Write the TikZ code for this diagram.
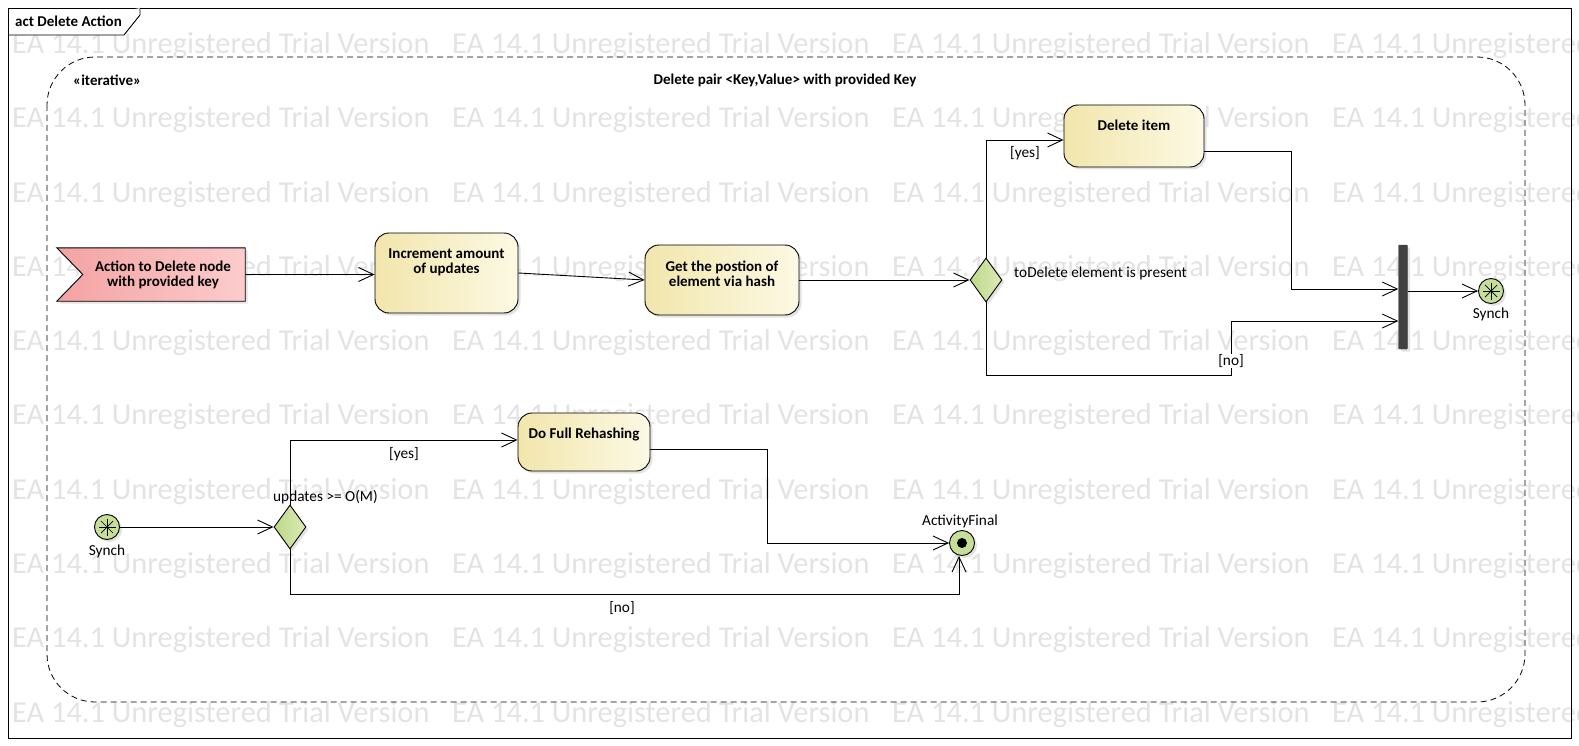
\documentclass[tikz,border=0pt]{standalone}
\usepackage{fontspec}
\setmainfont{Carlito}
\usetikzlibrary{arrows.meta,positioning,shapes.geometric,shadows}

\definecolor{actL}{HTML}{F2E6AC}
\definecolor{actR}{HTML}{FCF9E4}
\definecolor{sigL}{HTML}{F4A2A2}
\definecolor{sigR}{HTML}{FCCCCC}
\definecolor{decL}{HTML}{BFD88A}
\definecolor{decR}{HTML}{DCEAB6}
\definecolor{ctlfill}{HTML}{C6DE98}
\definecolor{barfill}{HTML}{404040}
\definecolor{wmark}{HTML}{E3E3E3}

\begin{document}
\begin{tikzpicture}[
    x=1pt, y=-1pt,
    every node/.style={font=\fontsize{15}{17}\selectfont},
    flow/.style={draw, line width=0.9pt, -{Straight Barb[length=15pt,width=14pt,line width=0.9pt]}},
    shade/.style={drop shadow={shadow xshift=2.5pt, shadow yshift=-2.5pt, fill=black!22}},
    action/.style={draw, line width=0.9pt, rounded corners=14pt, left color=actL, right color=actR, shade, inner sep=0},
    acttext/.style={anchor=north, align=center, font=\fontsize{15}{15}\selectfont\bfseries, inner sep=0},
    decision/.style={diamond, draw, line width=0.9pt, left color=decL, right color=decR, shade, minimum width=32pt, minimum height=44pt, inner sep=0},
    ctl/.style={circle, draw, line width=0.9pt, fill=ctlfill, shade, minimum size=25pt, inner sep=0},
    guard/.style={inner sep=1pt, font=\fontsize{15.3}{17}\selectfont},
    wm/.style={anchor=west, text=wmark, inner sep=0, font=\fontsize{30.4}{34}\selectfont}
]
\useasboundingbox (0,0) rectangle (1579,746);

% watermark
\begin{scope}
\clip (0,0) rectangle (1579,746);
\foreach \r in {0,...,9}
  \foreach \c in {0,...,3}
    \node[wm] (wm-\c-\r) at (12+440*\c, 45.5+74.3*\r) {EA 14.1 Unregistered Trial Version};
\end{scope}

% frame
\draw[line width=0.9pt] (8,8) rectangle (1571,738);
\draw[line width=0.9pt, fill=white] (8,35) -- (124,35) -- (140,15) -- (140,8);
\node[anchor=west, inner sep=0, font=\fontsize{15}{17}\selectfont\bfseries] (frametitle) at (15,21.5) {act Delete Action};

% iterative region
\draw[line width=0.8pt, dash pattern=on 6pt off 4pt, rounded corners=48pt] (47,57) rectangle (1525,702);
\node[anchor=west, inner sep=0, font=\fontsize{15}{17}\selectfont\bfseries] (stereo) at (73,80) {«iterative»};
\node[inner sep=0, font=\fontsize{15}{17}\selectfont\bfseries] (regtitle) at (785,80) {Delete pair <Key,Value> with provided Key};

% upper row
\node[minimum width=188pt, minimum height=53pt, inner sep=0] (sig) at (151,274.5) {};
\path[draw, line width=0.9pt, left color=sigL, right color=sigR, shade]
    (sig.north west) -- (sig.north east) -- (sig.south east) -- (sig.south west)
    -- ([xshift=26pt]sig.west) -- cycle;
\node[align=center, inner sep=0, font=\fontsize{15}{15}\selectfont\bfseries] (sigtxt) at (163,275) {Action to Delete node\\with provided key};

\node[action, minimum width=143pt, minimum height=80pt] (incr) at (446.5,273) {};
\node[acttext] (incrtxt) at ([yshift=-16pt]incr.north) {Increment amount\\of updates};

\node[action, minimum width=154pt, minimum height=70pt] (getpos) at (722,280) {};
\node[acttext] (getpostxt) at ([yshift=-16pt]getpos.north) {Get the postion of\\element via hash};

\node[decision] (dec1) at (986,280) {};
\node[anchor=west, guard] (dec1txt) at (1013,273) {toDelete element is present};

\node[action, minimum width=140pt, minimum height=62pt] (delitem) at (1134,136) {};
\node[acttext] (delitemtxt) at ([yshift=-15pt]delitem.north) {Delete item};

\node[draw=barfill, fill=barfill, rounded corners=1pt, shade, minimum width=9pt, minimum height=104pt, inner sep=0] (bar) at (1403,297) {};

\node[ctl] (synch1) at (1491,291) {};
\foreach \a in {0,45,90,135}
  \draw[line width=0.7pt] ([shift={(\a:8.5pt)}]synch1.center) -- ([shift={(\a+180:8.5pt)}]synch1.center);
\node[guard] (synch1txt) at (1491,314) {Synch};

\draw[flow] (sig.east) -- (sig.east -| incr.west);
\draw[flow] (incr.east) -- (getpos.west);
\draw[flow] (getpos.east) -- (dec1.west);
\draw[flow] (dec1.north) |- ([yshift=-4pt]delitem.west);
\node[guard] (yes1) at (1025,153) {[yes]};
\draw[flow] ([yshift=-15pt]delitem.east) -- ++(87,0) |- ([yshift=8pt]bar.west);
\coordinate (nobend) at (1231,375);
\draw[flow] (dec1.south) |- (nobend) |- ([yshift=-24pt]bar.west);
\node[guard, fill=white, inner sep=0.5pt] (no1) at (1231,361) {[no]};
\draw[flow] (bar.east |- synch1) -- (synch1.west);

% lower row
\node[ctl] (synch2) at (107,527) {};
\foreach \a in {0,45,90,135}
  \draw[line width=0.7pt] ([shift={(\a:8.5pt)}]synch2.center) -- ([shift={(\a+180:8.5pt)}]synch2.center);
\node[guard] (synch2txt) at (107,551) {Synch};

\node[decision] (dec2) at (290,527) {};
\node[anchor=west, guard] (dec2txt) at (272,497) {updates >= O(M)};

\node[action, minimum width=132pt, minimum height=58pt] (rehash) at (584,442) {};
\node[acttext] (rehashtxt) at ([yshift=-15pt]rehash.north) {Do Full Rehashing};

\node[ctl] (final) at (962,543) {};
\fill (final.center) circle (5pt);
\node[guard] (finaltxt) at (960,521) {ActivityFinal};

\draw[flow] (synch2.east) -- (dec2.west);
\draw[flow] (dec2.north) |- ([yshift=2pt]rehash.west);
\node[guard] (yes2) at (404,454) {[yes]};
\draw[flow] ([yshift=-7pt]rehash.east) -- ++(117,0) |- (final.west);
\coordinate (finbend) at (959,594);
\draw[flow] (dec2.south) |- (finbend) -- (finbend |- final.south);
\node[guard] (no2) at (622,608) {[no]};

\end{tikzpicture}
\end{document}
